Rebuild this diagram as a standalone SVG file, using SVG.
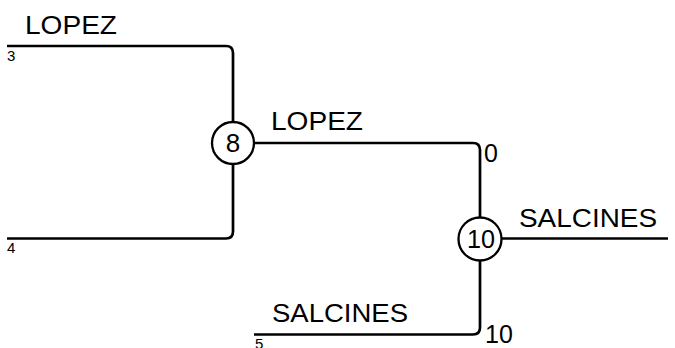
<svg xmlns="http://www.w3.org/2000/svg" width="675" height="348" viewBox="0 0 675 348">
<style>
.c{fill:none;stroke:#000;stroke-width:2.7}
.n{fill:#fff;stroke:#000;stroke-width:2.3}
.t{font-family:"Liberation Sans",Arial,sans-serif;fill:#000}
.big{font-size:26px}
.sm{font-size:15px}
.sc{font-size:25px}
.nl{font-size:26px;text-anchor:middle}
</style>
<rect width="675" height="348" fill="#fff"/>
<g id="connectors">
<path class="c" d="M7,46 H226 Q233,46 233,53 V122"/>
<path class="c" d="M7,238.5 H226 Q233,238.5 233,231.5 V164"/>
<path class="c" d="M254,143 H473 Q480,143 480,150 V217"/>
<path class="c" d="M254,334.5 H473 Q480,334.5 480,327.5 V261"/>
<path class="c" d="M502,238.5 H668"/>
</g>
<g id="labels">
<text class="t big" x="25" y="34" textLength="92" lengthAdjust="spacingAndGlyphs">LOPEZ</text>
<text class="t sm" x="7" y="61">3</text>
<text class="t sm" x="7" y="253">4</text>
<text class="t big" x="271" y="130" textLength="92" lengthAdjust="spacingAndGlyphs">LOPEZ</text>
<text class="t sc" x="484" y="162">0</text>
<text class="t big" x="519" y="227" textLength="138" lengthAdjust="spacingAndGlyphs">SALCINES</text>
<text class="t big" x="272" y="322" textLength="136" lengthAdjust="spacingAndGlyphs">SALCINES</text>
<text class="t sc" x="485" y="343">10</text>
<text class="t sm" x="255" y="349">5</text>
</g>
<g id="node-8">
<circle class="n" cx="233" cy="143" r="21"/>
<text class="t nl" x="233" y="152">8</text>
</g>
<g id="node-10">
<circle class="n" cx="480" cy="239" r="21.5"/>
<text class="t nl" x="481" y="248" textLength="28" lengthAdjust="spacingAndGlyphs">10</text>
</g>
</svg>
